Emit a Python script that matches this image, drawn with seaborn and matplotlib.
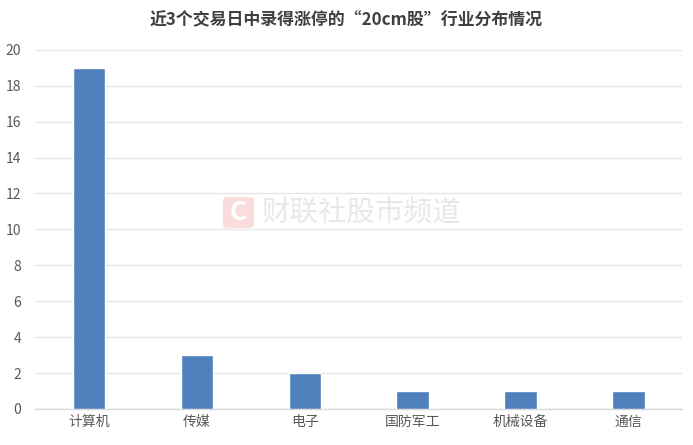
import matplotlib
matplotlib.use('Agg')
import matplotlib.pyplot as plt
from matplotlib.patches import FancyBboxPatch
import seaborn as sns
import pandas as pd

categories = ['计算机', '传媒', '电子', '国防军工', '机械设备', '通信']
counts = [19, 3, 2, 1, 1, 1]
yticks = [0, 2, 4, 6, 8, 10, 12, 14, 16, 18, 20]
title = '近3个交易日中录得涨停的“20cm股”行业分布情况'
watermark = '财联社股市频道'

sns.set_theme(style='white')
plt.rcParams['font.family'] = ['Noto Sans CJK SC', 'DejaVu Sans']

df = pd.DataFrame({'industry': categories, 'count': counts})

fig = plt.figure(figsize=(6.93, 4.45), dpi=100)
ax = fig.add_axes([0.0505, 0.081, 0.934, 0.807])

sns.barplot(data=df, x='industry', y='count', color='#4F81BD', width=0.3,
            saturation=1, ax=ax, zorder=3)

ax.set_ylim(0, 20)
ax.set_yticks(yticks)
ax.set_xlim(-0.5, len(categories) - 0.5)
ax.grid(axis='y', color='#e6e6e6', linewidth=1, zorder=0)
for s in ['top', 'right', 'left']:
    ax.spines[s].set_visible(False)
ax.spines['bottom'].set_color('#d9d9d9')
ax.spines['bottom'].set_linewidth(1)
ax.tick_params(axis='both', length=0, labelsize=10, colors='#595959', pad=4)
ax.tick_params(axis='y', pad=10)
ax.set_xlabel('')
ax.set_ylabel('')

fig.text(0.5, 0.955, title, ha='center', va='center', fontsize=12.2,
         fontweight='bold', color='#404040')

# watermark
logo = FancyBboxPatch((223 / 693, 1 - 228 / 445), 31 / 693, 31 / 445,
                      boxstyle='round,pad=0,rounding_size=0.008',
                      transform=fig.transFigure, facecolor='#fbdcdc',
                      edgecolor='none', zorder=5)
fig.patches.append(logo)
fig.text(238.5 / 693, 1 - 212.5 / 445, 'C', ha='center', va='center', fontsize=19,
         fontweight='bold', color='white', zorder=6)
fig.text(261 / 693, 1 - 212.5 / 445, watermark, ha='left', va='center',
         fontsize=20.5, color='#e8e8e8', zorder=6)

fig.savefig('out.png', dpi=100)
